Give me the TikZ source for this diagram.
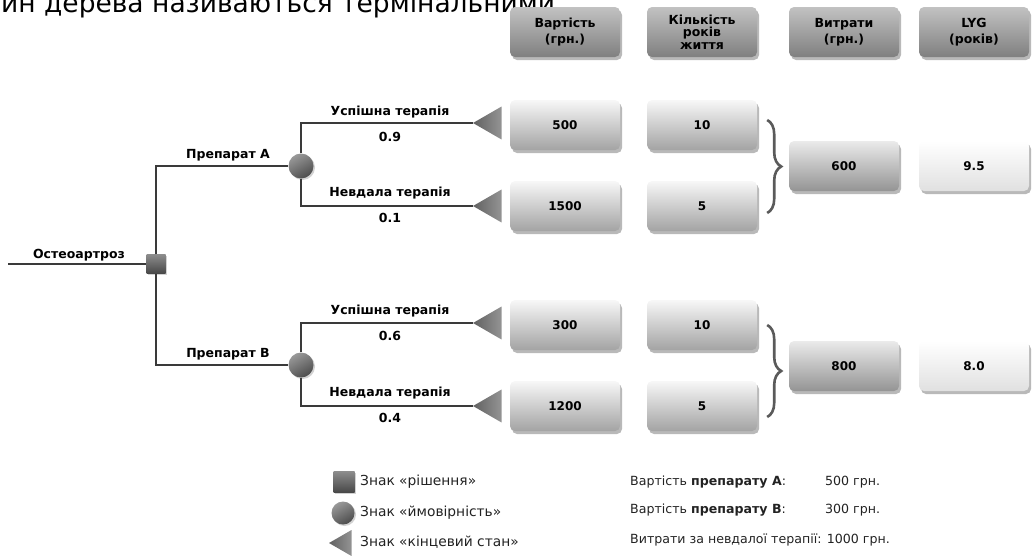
\documentclass[tikz,border=0pt]{standalone}
\usepackage{fontspec}
\setmainfont{DejaVu Sans}
\usetikzlibrary{shapes.geometric,shadows,decorations.pathreplacing}
\definecolor{linegray}{HTML}{3A3A3A}
\definecolor{bracegray}{HTML}{5A5A5A}
\definecolor{txtgray}{HTML}{222222}
\tikzset{
  boxbase/.style={rounded corners=5pt,minimum width=110pt,minimum height=50pt,inner sep=0pt,align=center,
    drop shadow={shadow xshift=2pt,shadow yshift=-3pt,fill=black!55}},
  hdbox/.style={boxbase,top color=black!24,middle color=black!13,bottom color=black!50,
    font=\bfseries\fontsize{12.5}{15.5}\selectfont},
  hdbox3/.style={hdbox,font=\bfseries\fontsize{12.5}{12.5}\selectfont},
  valbox/.style={boxbase,top color=black!3,middle color=black!9,bottom color=black!36,
    font=\bfseries\fontsize{12}{14}\selectfont},
  sumbox/.style={valbox,top color=black!8,middle color=black!12,bottom color=black!42},
  lygbox/.style={valbox,top color=white,middle color=black!2,bottom color=black!12},
  lbl/.style={font=\bfseries\fontsize{12.5}{14}\selectfont,inner sep=0pt},
  lgd/.style={font=\fontsize{13.8}{15}\selectfont,text=txtgray,inner sep=0pt,anchor=west},
  note/.style={lgd,font=\fontsize{12.6}{15}\selectfont},
  branch/.style={draw=linegray,line width=1.5pt},
  brc/.style={draw=bracegray,line width=2.6pt,decorate,decoration={brace,amplitude=14pt}},
  decsym/.style={rectangle,minimum size=19pt,inner sep=0pt,top color=black!45,bottom color=black!72,
    drop shadow={shadow xshift=1.5pt,shadow yshift=-1.5pt,fill=black!35}},
  chsym/.style={circle,minimum size=25pt,inner sep=0pt,top color=black!40,bottom color=black!70,shading angle=30,
    drop shadow={shadow xshift=1.5pt,shadow yshift=-1.5pt,fill=black!35}},
  endsym/.style={regular polygon,regular polygon sides=3,shape border rotate=90,minimum size=38pt,inner sep=0pt,
    left color=black!62,right color=black!42}
}
\begin{document}
\begin{tikzpicture}[x=1pt,y=-1pt]
\useasboundingbox (0,0) rectangle (1035,555);
\begin{scope}
\clip (0,0) rectangle (1035,555);
\node[anchor=base west,inner sep=0pt,font=\fontsize{26.5}{31}\selectfont] (cut) at (1,12) {ин дерева називаються термінальними};

\node[hdbox] (hcost) at (565,32) {Вартість\\(грн.)};
\node[hdbox3] (hyears) at (702,32) {Кількість\\років\\життя};
\node[hdbox] (hexp) at (844,32) {Витрати\\(грн.)};
\node[hdbox] (hlyg) at (974,32) {LYG\\(років)};

\coordinate (root) at (8,264);
\node[decsym] (dec) at (156,264) {};
\node[chsym] (chA) at (301,166) {};
\node[chsym] (chB) at (301,365) {};
\node[endsym] (eA1) at (492,123) {};
\node[endsym] (eA2) at (492,206) {};
\node[endsym] (eB1) at (492,323) {};
\node[endsym] (eB2) at (492,406) {};

\draw[branch] (root) -- (dec);
\draw[branch] (dec) |- (chA);
\draw[branch] (dec) |- (chB);
\draw[branch] (chA) |- (eA1);
\draw[branch] (chA) |- (eA2);
\draw[branch] (chB) |- (eB1);
\draw[branch] (chB) |- (eB2);

\node[lbl] (loa) at (79,255) {Остеоартроз};
\node[lbl] (lA) at (228,155) {Препарат А};
\node[lbl] (lB) at (228,354) {Препарат В};
\node[lbl] (lA1) at (390,112) {Успішна терапія};
\node[lbl] (pA1) at (390,137) {0.9};
\node[lbl] (lA2) at (390,193) {Невдала терапія};
\node[lbl] (pA2) at (390,218) {0.1};
\node[lbl] (lB1) at (390,311) {Успішна терапія};
\node[lbl] (pB1) at (390,336) {0.6};
\node[lbl] (lB2) at (390,393) {Невдала терапія};
\node[lbl] (pB2) at (390,418) {0.4};

\node[valbox] (cA1) at (565,125) {500};
\node[valbox] (yA1) at (702,125) {10};
\node[valbox] (cA2) at (565,206) {1500};
\node[valbox] (yA2) at (702,206) {5};
\node[valbox] (cB1) at (565,325) {300};
\node[valbox] (yB1) at (702,325) {10};
\node[valbox] (cB2) at (565,406) {1200};
\node[valbox] (yB2) at (702,406) {5};

\node[sumbox] (sA) at (844,166) {600};
\node[lygbox] (gA) at (974,166) {9.5};
\node[sumbox] (sB) at (844,366) {800};
\node[lygbox] (gB) at (974,366) {8.0};

\draw[brc] ([xshift=10pt,yshift=5pt]yA1.east) -- ([xshift=10pt,yshift=-7pt]yA2.east);
\draw[brc] ([xshift=10pt,yshift=0pt]yB1.east) -- ([xshift=10pt,yshift=-11pt]yB2.east);

\node[decsym,minimum size=21pt] (kdec) at (344,482) {};
\node[chsym,minimum size=23pt] (kch) at (343,513) {};
\node[endsym,minimum size=30pt] (kend) at (344,543) {};
\node[lgd] (tdec) at (360,482) {Знак «рішення»};
\node[lgd] (tch) at (360,513) {Знак «ймовірність»};
\node[lgd] (tend) at (360,542) {Знак «кінцевий стан»};

\node[note] (tcA) at (630,482) {Вартість \textbf{препарату А}:};
\node[note] (vcA) at (825,482) {500 грн.};
\node[note] (tcB) at (630,510) {Вартість \textbf{препарату В}:};
\node[note] (vcB) at (825,510) {300 грн.};
\node[note] (tfail) at (630,540) {Витрати за невдалої терапії: 1000 грн.};
\end{scope}
\end{tikzpicture}
\end{document}
